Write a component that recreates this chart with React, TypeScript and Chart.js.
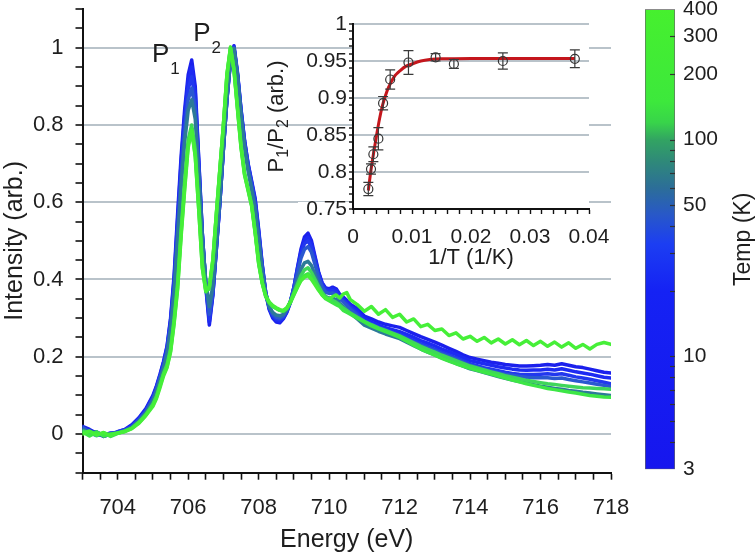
import React, { useEffect, useRef } from 'react';
import { Chart, registerables } from 'chart.js';

Chart.register(...registerables);

const FONT = "'Liberation Sans', Arial, Helvetica, sans-serif";
const TEXT = '#1e1e1e';
const AXIS = '#111111';
const GRID = '#b9c3ca';

// ---------------- Main spectra (Energy in eV, intensity arb.) ----------------
const energy = [
  703.0, 703.2, 703.4, 703.6, 703.8, 704.0, 704.2, 704.4, 704.6, 704.8,
  705.0, 705.1, 705.2, 705.3, 705.4, 705.5, 705.6, 705.7, 705.8, 705.9,
  706.0, 706.1, 706.2, 706.3, 706.4, 706.5, 706.6, 706.7, 706.8, 706.9,
  707.0, 707.1, 707.2, 707.3, 707.4, 707.5, 707.6, 707.7, 707.8, 707.9,
  708.0, 708.1, 708.2, 708.3, 708.4, 708.5, 708.6, 708.7, 708.8, 708.9,
  709.0, 709.1, 709.2, 709.3, 709.4, 709.5, 709.6, 709.7, 709.8, 709.9,
  710.0, 710.1, 710.2, 710.3, 710.4, 710.5, 710.6,
  710.8, 711.0, 711.2, 711.4, 711.6, 711.8, 712.0, 712.2, 712.4, 712.6,
  712.8, 713.0, 713.2, 713.4, 713.6, 713.8, 714.0, 714.2, 714.4, 714.6,
  714.8, 715.0, 715.2, 715.4, 715.6, 715.8, 716.0, 716.2, 716.4, 716.6,
  716.8, 717.0, 717.2, 717.4, 717.6, 717.8, 718.0,
];

const int3K = [
  0.020, 0.012, 0.002, -0.006, 0.000, 0.006, 0.012, 0.024, 0.042, 0.066,
  0.100, 0.125, 0.155, 0.188, 0.228, 0.300, 0.410, 0.570, 0.720, 0.840,
  0.930, 0.968, 0.900, 0.710, 0.520, 0.380, 0.282, 0.360, 0.480, 0.600,
  0.740, 0.870, 0.970, 1.005, 0.935, 0.840, 0.760, 0.700, 0.655, 0.610,
  0.530, 0.440, 0.365, 0.322, 0.300, 0.290, 0.288, 0.298, 0.315, 0.340,
  0.380, 0.430, 0.478, 0.510, 0.520, 0.500, 0.460, 0.420, 0.392, 0.378,
  0.376, 0.380, 0.376, 0.362, 0.355, 0.346, 0.336,
  0.325, 0.305, 0.298, 0.290, 0.284, 0.280, 0.276, 0.268, 0.260, 0.252,
  0.245, 0.238, 0.230, 0.222, 0.214, 0.205, 0.198, 0.194, 0.190, 0.186,
  0.183, 0.180, 0.178, 0.176, 0.176, 0.177, 0.178, 0.180, 0.178, 0.182,
  0.178, 0.174, 0.172, 0.168, 0.164, 0.160, 0.158,
];

const int10K = [
  0.015, 0.008, 0.004, -0.002, 0.003, 0.004, 0.010, 0.022, 0.040, 0.063,
  0.097, 0.122, 0.152, 0.185, 0.225, 0.295, 0.400, 0.555, 0.705, 0.825,
  0.915, 0.950, 0.885, 0.705, 0.520, 0.385, 0.290, 0.362, 0.480, 0.600,
  0.738, 0.868, 0.968, 1.002, 0.932, 0.838, 0.758, 0.698, 0.652, 0.605,
  0.525, 0.438, 0.366, 0.325, 0.304, 0.294, 0.292, 0.300, 0.317, 0.342,
  0.380, 0.428, 0.472, 0.502, 0.510, 0.492, 0.455, 0.417, 0.390, 0.376,
  0.373, 0.376, 0.372, 0.358, 0.351, 0.342, 0.332,
  0.318, 0.298, 0.290, 0.282, 0.275, 0.270, 0.265, 0.258, 0.250, 0.242,
  0.235, 0.228, 0.220, 0.213, 0.206, 0.198, 0.190, 0.186, 0.182, 0.178,
  0.174, 0.171, 0.168, 0.166, 0.165, 0.166, 0.166, 0.168, 0.166, 0.169,
  0.165, 0.161, 0.158, 0.155, 0.151, 0.147, 0.145,
];

const int27K = [
  0.010, 0.004, -0.004, 0.002, -0.003, 0.006, 0.011, 0.020, 0.038, 0.060,
  0.094, 0.118, 0.148, 0.180, 0.220, 0.288, 0.390, 0.540, 0.685, 0.805,
  0.893, 0.925, 0.865, 0.695, 0.518, 0.388, 0.298, 0.365, 0.482, 0.602,
  0.738, 0.866, 0.965, 1.000, 0.930, 0.835, 0.755, 0.695, 0.648, 0.600,
  0.520, 0.435, 0.366, 0.327, 0.307, 0.298, 0.296, 0.303, 0.319, 0.343,
  0.378, 0.423, 0.465, 0.493, 0.500, 0.483, 0.448, 0.412, 0.386, 0.372,
  0.369, 0.371, 0.367, 0.354, 0.347, 0.338, 0.328,
  0.312, 0.293, 0.285, 0.277, 0.270, 0.264, 0.258, 0.250, 0.242, 0.234,
  0.227, 0.220, 0.212, 0.205, 0.198, 0.190, 0.182, 0.177, 0.172, 0.168,
  0.164, 0.160, 0.157, 0.155, 0.154, 0.154, 0.155, 0.156, 0.154, 0.156,
  0.152, 0.148, 0.145, 0.142, 0.138, 0.134, 0.130,
];

const int50K = [
  0.018, 0.006, 0.000, -0.004, 0.002, 0.004, 0.009, 0.019, 0.036, 0.058,
  0.091, 0.115, 0.145, 0.176, 0.215, 0.280, 0.378, 0.525, 0.665, 0.782,
  0.866, 0.895, 0.842, 0.682, 0.512, 0.392, 0.310, 0.372, 0.487, 0.606,
  0.740, 0.866, 0.963, 0.998, 0.928, 0.830, 0.750, 0.690, 0.643, 0.593,
  0.513, 0.430, 0.365, 0.330, 0.311, 0.302, 0.300, 0.306, 0.321, 0.343,
  0.375, 0.416, 0.455, 0.478, 0.485, 0.470, 0.438, 0.405, 0.381, 0.367,
  0.364, 0.365, 0.361, 0.349, 0.342, 0.333, 0.323,
  0.307, 0.289, 0.281, 0.273, 0.266, 0.260, 0.254, 0.246, 0.238, 0.230,
  0.223, 0.216, 0.208, 0.201, 0.194, 0.186, 0.178, 0.173, 0.168, 0.163,
  0.159, 0.155, 0.152, 0.149, 0.147, 0.146, 0.146, 0.146, 0.144, 0.145,
  0.141, 0.138, 0.135, 0.132, 0.129, 0.126, 0.123,
];

const int70K = [
  0.012, 0.002, 0.006, -0.006, 0.000, 0.003, 0.008, 0.017, 0.033, 0.055,
  0.086, 0.110, 0.139, 0.170, 0.207, 0.268, 0.362, 0.500, 0.640, 0.755,
  0.838, 0.865, 0.815, 0.665, 0.505, 0.395, 0.330, 0.385, 0.495, 0.614,
  0.748, 0.876, 0.968, 0.998, 0.925, 0.823, 0.740, 0.680, 0.632, 0.578,
  0.497, 0.418, 0.360, 0.330, 0.315, 0.308, 0.306, 0.310, 0.322, 0.342,
  0.368, 0.398, 0.426, 0.443, 0.447, 0.436, 0.412, 0.387, 0.368, 0.356,
  0.352, 0.352, 0.348, 0.338, 0.330, 0.322, 0.313,
  0.298, 0.282, 0.274, 0.266, 0.259, 0.253, 0.247, 0.238, 0.229, 0.220,
  0.212, 0.205, 0.197, 0.190, 0.183, 0.176, 0.169, 0.164, 0.159, 0.154,
  0.149, 0.144, 0.140, 0.136, 0.132, 0.128, 0.124, 0.121, 0.118, 0.116,
  0.113, 0.111, 0.108, 0.106, 0.104, 0.102, 0.100,
];

const int150K = [
  0.008, 0.004, -0.004, 0.003, -0.006, 0.002, 0.007, 0.015, 0.030, 0.050,
  0.078, 0.098, 0.127, 0.157, 0.180, 0.222, 0.298, 0.392, 0.530, 0.655,
  0.762, 0.800, 0.735, 0.595, 0.445, 0.372, 0.375, 0.448, 0.568, 0.685,
  0.800, 0.928, 0.998, 0.945, 0.845, 0.748, 0.675, 0.635, 0.595, 0.525,
  0.445, 0.392, 0.358, 0.340, 0.330, 0.325, 0.320, 0.318, 0.325, 0.342,
  0.365, 0.388, 0.410, 0.425, 0.430, 0.418, 0.400, 0.382, 0.366, 0.355,
  0.350, 0.346, 0.341, 0.334, 0.326, 0.320, 0.313,
  0.302, 0.292, 0.283, 0.275, 0.268, 0.261, 0.254, 0.245, 0.236, 0.227,
  0.219, 0.212, 0.204, 0.197, 0.190, 0.183, 0.176, 0.171, 0.166, 0.161,
  0.156, 0.151, 0.147, 0.143, 0.139, 0.136, 0.133, 0.130, 0.128, 0.126,
  0.124, 0.122, 0.120, 0.119, 0.118, 0.117, 0.116,
];

const int200K = [
  0.005, -0.005, 0.005, -0.005, 0.000, 0.002, 0.008, 0.015, 0.030, 0.050,
  0.075, 0.095, 0.125, 0.155, 0.175, 0.215, 0.290, 0.380, 0.520, 0.640,
  0.750, 0.790, 0.720, 0.580, 0.430, 0.368, 0.380, 0.450, 0.570, 0.685,
  0.800, 0.930, 1.000, 0.940, 0.840, 0.740, 0.670, 0.630, 0.590, 0.520,
  0.440, 0.390, 0.355, 0.340, 0.330, 0.325, 0.320, 0.318, 0.325, 0.340,
  0.360, 0.380, 0.400, 0.410, 0.415, 0.405, 0.390, 0.375, 0.360, 0.350,
  0.345, 0.340, 0.335, 0.330, 0.320, 0.315, 0.310,
  0.300, 0.290, 0.280, 0.272, 0.265, 0.258, 0.250, 0.240, 0.230, 0.220,
  0.212, 0.204, 0.196, 0.189, 0.182, 0.176, 0.170, 0.165, 0.160, 0.155,
  0.150, 0.145, 0.140, 0.135, 0.130, 0.126, 0.122, 0.118, 0.115, 0.112,
  0.109, 0.106, 0.103, 0.100, 0.098, 0.096, 0.095,
];

const int400K = [
  0.000, 0.008, -0.002, 0.004, -0.004, 0.003, 0.006, 0.014, 0.028, 0.048,
  0.072, 0.092, 0.120, 0.150, 0.172, 0.212, 0.285, 0.375, 0.512, 0.632,
  0.742, 0.785, 0.718, 0.580, 0.432, 0.370, 0.382, 0.452, 0.572, 0.688,
  0.802, 0.932, 1.002, 0.942, 0.842, 0.742, 0.672, 0.632, 0.592, 0.522,
  0.443, 0.392, 0.358, 0.342, 0.333, 0.327, 0.322, 0.320, 0.327, 0.342,
  0.362, 0.380, 0.397, 0.406, 0.410, 0.400, 0.386, 0.372, 0.360, 0.352,
  0.348, 0.356, 0.360, 0.352, 0.362, 0.366, 0.348,
  0.335, 0.318, 0.330, 0.310, 0.322, 0.302, 0.310, 0.290, 0.298, 0.278,
  0.284, 0.268, 0.272, 0.255, 0.262, 0.246, 0.253, 0.240, 0.250, 0.236,
  0.246, 0.233, 0.244, 0.231, 0.242, 0.229, 0.240, 0.227, 0.238, 0.225,
  0.236, 0.222, 0.232, 0.220, 0.232, 0.237, 0.232,
];

const seriesTemps = [3, 10, 27, 50, 70, 150, 200, 400];
const seriesValues = [int3K, int10K, int27K, int50K, int70K, int150K, int200K, int400K];
const seriesColors = ['#1b20ec', '#1d2af2', '#2238ee', '#2a58d0', '#2d7a98', '#3fd65a', '#3de646', '#46ef38'];

const xLabelVals = [704, 706, 708, 710, 712, 714, 716, 718];
const yLabelVals = [0, 0.2, 0.4, 0.6, 0.8, 1];

const peakLabels = [
  { main: 'P', sub: '1', e: 704.97, v: 0.963 },
  { main: 'P', sub: '2', e: 706.14, v: 1.016 },
];

// ---------------- Inset: P1/P2 vs 1/T ----------------
const invT = [0.0026, 0.00305, 0.00345, 0.0043, 0.0051, 0.0063, 0.0094, 0.0140, 0.0171, 0.0254, 0.0376];
const ratio = [0.777, 0.804, 0.824, 0.845, 0.893, 0.925, 0.948, 0.955, 0.946, 0.950, 0.953];
const ratioErr = [0.009, 0.007, 0.010, 0.015, 0.009, 0.013, 0.016, 0.005, 0.006, 0.011, 0.012];

const fitInvT = [0.0026, 0.0030, 0.0035, 0.0040, 0.0045, 0.0050, 0.0055, 0.0060, 0.0070, 0.0080, 0.0090, 0.0100, 0.0115, 0.0130, 0.0150, 0.0200, 0.0300, 0.0376];
const fitRatio = [0.775, 0.800, 0.826, 0.850, 0.872, 0.890, 0.903, 0.914, 0.929, 0.937, 0.943, 0.946, 0.950, 0.952, 0.953, 0.9535, 0.9535, 0.9535];

const insetXLabelVals = [0, 0.01, 0.02, 0.03, 0.04];
const insetYLabelVals = [0.75, 0.8, 0.85, 0.9, 0.95, 1];

// ---------------- Colour bar (Temp, K, log) ----------------
const cbMin = 3;
const cbMax = 400;
const cbTickVals = [3, 4, 5, 6, 7, 8, 9, 10, 20, 30, 40, 50, 60, 70, 80, 90, 100, 200, 300, 400];
const cbLabelVals = [3, 10, 50, 100, 200, 300, 400];
const cbStopTemps = [3, 20, 33, 45, 60, 80, 100, 120, 150, 400];
const cbStopColors = ['#1616ee', '#1522f4', '#1c3ef2', '#2858c8', '#2c6e98', '#2f8a78', '#32a462', '#38d44a', '#3de83c', '#46f02e'];

const near = (a: number, b: number) => Math.abs(a - b) < 1e-6;
const inList = (list: number[], v: number) => list.some((l) => near(l, v));

function mainConfig(): any {
  const xTicks: number[] = [];
  for (let i = 0; i <= 30; i++) xTicks.push(703 + i * 0.5);
  const yTicks: number[] = [];
  for (let i = 0; i <= 24; i++) yTicks.push(Math.round((-0.1 + i * 0.05) * 100) / 100);

  const datasets = seriesTemps
    .map((t, i) => ({
      label: `${t} K`,
      data: energy.map((e, j) => ({ x: e, y: seriesValues[i][j] })),
      borderColor: seriesColors[i],
      backgroundColor: seriesColors[i],
      borderWidth: 3.5,
      borderJoinStyle: 'round',
      borderCapStyle: 'round',
      pointRadius: 0,
      showLine: true,
      tension: 0,
    }))
    .reverse();

  const peakPlugin = {
    id: 'peakLabels',
    afterDatasetsDraw(chart: any) {
      const { ctx, scales } = chart;
      ctx.save();
      ctx.fillStyle = TEXT;
      ctx.textBaseline = 'alphabetic';
      ctx.textAlign = 'left';
      peakLabels.forEach((p) => {
        const x = scales.x.getPixelForValue(p.e);
        const y = scales.y.getPixelForValue(p.v);
        ctx.font = `26px ${FONT}`;
        ctx.fillText(p.main, x, y);
        const w = ctx.measureText(p.main).width;
        ctx.font = `17px ${FONT}`;
        ctx.fillText(p.sub, x + w + 1, y + 12);
      });
      ctx.restore();
    },
  };

  return {
    type: 'scatter',
    data: { datasets },
    plugins: [peakPlugin],
    options: {
      animation: false,
      responsive: false,
      maintainAspectRatio: false,
      events: [],
      layout: { padding: { left: 0, top: 9, right: 145, bottom: 0 } },
      plugins: { legend: { display: false }, tooltip: { enabled: false } },
      scales: {
        x: {
          type: 'linear',
          min: 703,
          max: 718,
          afterBuildTicks: (s: any) => {
            s.ticks = xTicks.map((v) => ({ value: v }));
          },
          afterFit: (s: any) => {
            s.height = 83.3;
            s.paddingLeft = 0;
            s.paddingRight = 0;
          },
          ticks: {
            autoSkip: false,
            maxRotation: 0,
            padding: 15,
            color: TEXT,
            font: { size: 22, family: FONT },
            callback: (v: number) => (inList(xLabelVals, v) ? String(v) : ''),
          },
          grid: { drawOnChartArea: false, tickLength: 7, tickWidth: 1.6, tickColor: AXIS },
          border: { color: AXIS, width: 2 },
          title: {
            display: true,
            text: 'Energy (eV)',
            color: TEXT,
            font: { size: 25, family: FONT },
            padding: { top: 0, bottom: 1 },
          },
        },
        y: {
          type: 'linear',
          min: -0.1,
          max: 1.1,
          afterBuildTicks: (s: any) => {
            s.ticks = yTicks.map((v) => ({ value: v }));
          },
          afterFit: (s: any) => {
            s.width = 82.5;
            s.paddingTop = 0;
            s.paddingBottom = 0;
          },
          ticks: {
            autoSkip: false,
            padding: 12,
            color: TEXT,
            font: { size: 22, family: FONT },
            callback: (v: number) => (inList(yLabelVals, v) ? String(Math.round(v * 10) / 10) : ''),
          },
          grid: {
            color: (c: any) => (c.tick && inList(yLabelVals, c.tick.value) ? GRID : 'rgba(0,0,0,0)'),
            lineWidth: 2,
            tickLength: 7,
            tickWidth: 1.6,
            tickColor: AXIS,
          },
          border: { color: AXIS, width: 2 },
          title: {
            display: true,
            text: 'Intensity (arb.)',
            color: TEXT,
            font: { size: 25, family: FONT },
            padding: { top: 0, bottom: 0 },
          },
        },
      },
    },
  };
}

function insetConfig(): any {
  const xTicks: number[] = [];
  for (let i = 0; i <= 20; i++) xTicks.push(Math.round(i * 0.002 * 1000) / 1000);
  const yTicks: number[] = [];
  for (let i = 0; i <= 25; i++) yTicks.push(Math.round((0.75 + i * 0.01) * 100) / 100);

  const insetPlugin = {
    id: 'insetDecor',
    beforeDraw(chart: any) {
      const { ctx, chartArea, scales } = chart;
      ctx.save();
      ctx.fillStyle = '#ffffff';
      ctx.fillRect(chartArea.left, chartArea.top, chartArea.right - chartArea.left, chartArea.bottom - chartArea.top);
      insetYLabelVals.forEach((v) => {
        const y = scales.y.getPixelForValue(v);
        ctx.fillRect(chartArea.left - 55, y - 7, 52, 14);
      });
      ctx.restore();
    },
    afterDatasetsDraw(chart: any) {
      const { ctx, scales } = chart;
      ctx.save();
      ctx.strokeStyle = '#3a3a3a';
      ctx.lineWidth = 1.2;
      invT.forEach((t, i) => {
        const px = scales.x.getPixelForValue(t);
        const top = scales.y.getPixelForValue(ratio[i] + ratioErr[i]);
        const bot = scales.y.getPixelForValue(ratio[i] - ratioErr[i]);
        ctx.beginPath();
        ctx.moveTo(px, top);
        ctx.lineTo(px, bot);
        ctx.moveTo(px - 5, top);
        ctx.lineTo(px + 5, top);
        ctx.moveTo(px - 5, bot);
        ctx.lineTo(px + 5, bot);
        ctx.stroke();
      });
      ctx.restore();
    },
    afterDraw(chart: any) {
      const { ctx, chartArea } = chart;
      const parts: [string, number, number][] = [
        ['P', 22, 0],
        ['1', 16, 5],
        ['/P', 22, 0],
        ['2', 16, 5],
        [' (arb.)', 22, 0],
      ];
      ctx.save();
      ctx.fillStyle = TEXT;
      ctx.textBaseline = 'alphabetic';
      ctx.textAlign = 'left';
      let total = 0;
      parts.forEach(([t, s]) => {
        ctx.font = `${s}px ${FONT}`;
        total += ctx.measureText(t).width;
      });
      ctx.translate(33, (chartArea.top + chartArea.bottom) / 2);
      ctx.rotate(-Math.PI / 2);
      let x = -total / 2;
      parts.forEach(([t, s, dy]) => {
        ctx.font = `${s}px ${FONT}`;
        ctx.fillText(t, x, dy);
        x += ctx.measureText(t).width;
      });
      ctx.restore();
    },
  };

  return {
    type: 'scatter',
    data: {
      datasets: [
        {
          label: 'P1/P2',
          data: invT.map((t, i) => ({ x: t, y: ratio[i] })),
          pointRadius: 4.5,
          pointBorderWidth: 1.2,
          pointBorderColor: '#333333',
          pointBackgroundColor: 'rgba(0,0,0,0)',
          showLine: false,
        },
        {
          label: 'fit',
          data: fitInvT.map((t, i) => ({ x: t, y: fitRatio[i] })),
          showLine: true,
          pointRadius: 0,
          borderColor: '#c4161c',
          borderWidth: 3,
          tension: 0.3,
        },
      ],
    },
    plugins: [insetPlugin],
    options: {
      animation: false,
      responsive: false,
      maintainAspectRatio: false,
      events: [],
      layout: { padding: { left: 0, top: 24, right: 31, bottom: 0 } },
      plugins: { legend: { display: false }, tooltip: { enabled: false } },
      scales: {
        x: {
          type: 'linear',
          min: 0,
          max: 0.04,
          afterBuildTicks: (s: any) => {
            s.ticks = xTicks.map((v) => ({ value: v }));
          },
          afterFit: (s: any) => {
            s.height = 71;
            s.paddingLeft = 0;
            s.paddingRight = 0;
          },
          ticks: {
            autoSkip: false,
            maxRotation: 0,
            padding: 11,
            color: TEXT,
            font: { size: 21, family: FONT },
            callback: (v: number) => (inList(insetXLabelVals, v) ? String(v) : ''),
          },
          grid: { drawOnChartArea: false, tickLength: 5, tickWidth: 1.4, tickColor: AXIS },
          border: { color: AXIS, width: 2 },
          title: {
            display: true,
            text: '1/T (1/K)',
            color: TEXT,
            font: { size: 22, family: FONT },
            padding: { top: 0, bottom: 9 },
          },
        },
        y: {
          type: 'linear',
          min: 0.75,
          max: 1,
          afterBuildTicks: (s: any) => {
            s.ticks = yTicks.map((v) => ({ value: v }));
          },
          afterFit: (s: any) => {
            s.width = 103;
            s.paddingTop = 0;
            s.paddingBottom = 0;
          },
          ticks: {
            autoSkip: false,
            padding: 2,
            color: TEXT,
            font: { size: 21, family: FONT },
            callback: (v: number) => (inList(insetYLabelVals, v) ? String(v) : ''),
          },
          grid: {
            color: (c: any) =>
              c.tick && inList(insetYLabelVals, c.tick.value) && !near(c.tick.value, 0.75) ? GRID : 'rgba(0,0,0,0)',
            lineWidth: 2,
            tickLength: 4,
            tickWidth: 1.4,
            tickColor: AXIS,
          },
          border: { color: AXIS, width: 2 },
          title: { display: false },
        },
      },
    },
  };
}

function colorbarConfig(): any {
  const gradient = (c: any) => {
    const chart = c.chart;
    if (!chart.chartArea) return '#1616ee';
    const ys = chart.scales.y;
    const g = chart.ctx.createLinearGradient(0, ys.getPixelForValue(cbMin), 0, ys.getPixelForValue(cbMax));
    const lmin = Math.log(cbMin);
    const lmax = Math.log(cbMax);
    cbStopTemps.forEach((t, i) => {
      g.addColorStop((Math.log(t) - lmin) / (lmax - lmin), cbStopColors[i]);
    });
    return g;
  };

  const cbPlugin = {
    id: 'cbDecor',
    afterDraw(chart: any) {
      const { ctx, chartArea, scales } = chart;
      ctx.save();
      ctx.strokeStyle = '#333333';
      ctx.lineWidth = 1.2;
      cbTickVals.forEach((v) => {
        if (near(v, cbMin) || near(v, cbMax)) return;
        const y = Math.round(scales.y.getPixelForValue(v)) + 0.5;
        ctx.beginPath();
        ctx.moveTo(chartArea.right - 5, y);
        ctx.lineTo(chartArea.right, y);
        ctx.stroke();
      });
      ctx.fillStyle = TEXT;
      ctx.font = `23px ${FONT}`;
      ctx.textAlign = 'center';
      ctx.textBaseline = 'middle';
      ctx.translate(144, (chartArea.top + chartArea.bottom) / 2);
      ctx.rotate(-Math.PI / 2);
      ctx.fillText('Temp (K)', 0, 0);
      ctx.restore();
    },
  };

  return {
    type: 'bar',
    data: {
      labels: ['T'],
      datasets: [
        {
          data: [[cbMin, cbMax]],
          backgroundColor: gradient,
          borderColor: '#666666',
          borderWidth: 1,
          borderSkipped: false,
          barPercentage: 1,
          categoryPercentage: 1,
        },
      ],
    },
    plugins: [cbPlugin],
    options: {
      animation: false,
      responsive: false,
      maintainAspectRatio: false,
      events: [],
      layout: { padding: { left: 45, top: 9.3, right: 0, bottom: 86.7 } },
      plugins: { legend: { display: false }, tooltip: { enabled: false } },
      scales: {
        x: { display: false },
        y: {
          type: 'logarithmic',
          position: 'right',
          min: cbMin,
          max: cbMax,
          afterBuildTicks: (s: any) => {
            s.ticks = cbTickVals.map((v) => ({ value: v }));
          },
          afterFit: (s: any) => {
            s.width = 81;
            s.paddingTop = 0;
            s.paddingBottom = 0;
          },
          ticks: {
            autoSkip: false,
            padding: 8,
            color: TEXT,
            font: { size: 21, family: FONT },
            callback: (v: number) => (inList(cbLabelVals, v) ? String(v) : ''),
          },
          grid: { display: false, drawTicks: false },
          border: { display: false },
        },
      },
    },
  };
}

export default function App() {
  const mainRef = useRef<HTMLCanvasElement>(null);
  const insetRef = useRef<HTMLCanvasElement>(null);
  const cbRef = useRef<HTMLCanvasElement>(null);

  useEffect(() => {
    Chart.defaults.font.family = FONT;
    Chart.defaults.color = TEXT;
    const charts: Chart[] = [];
    if (mainRef.current) charts.push(new Chart(mainRef.current, mainConfig()));
    if (insetRef.current) charts.push(new Chart(insetRef.current, insetConfig()));
    if (cbRef.current) charts.push(new Chart(cbRef.current, colorbarConfig()));
    return () => charts.forEach((c) => c.destroy());
  }, []);

  return (
    <div style={{ position: 'absolute', left: 0, top: 0, width: 756, height: 556, background: '#ffffff', overflow: 'hidden' }}>
      <canvas ref={mainRef} width={756} height={556} style={{ position: 'absolute', left: 0, top: 0, width: 756, height: 556 }} />
      <canvas ref={insetRef} width={370} height={280} style={{ position: 'absolute', left: 250, top: 0, width: 370, height: 280 }} />
      <canvas ref={cbRef} width={156} height={556} style={{ position: 'absolute', left: 600, top: 0, width: 156, height: 556 }} />
    </div>
  );
}
